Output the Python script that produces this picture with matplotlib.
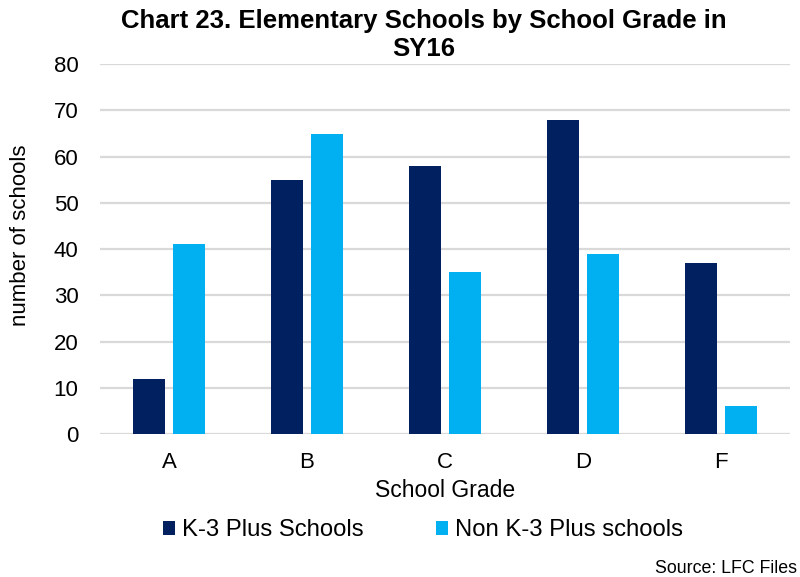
"""
Chart 23: elementary schools by school grade in SY16,
grouped bars for K-3 Plus and non K-3 Plus schools.
"""

import numpy as np
import matplotlib.pyplot as plt

plt.rcParams["font.family"] = ["Liberation Sans", "DejaVu Sans"]

grades = ["A", "B", "C", "D", "F"]
k3_plus = [12, 55, 58, 68, 37]
non_k3_plus = [41, 65, 35, 39, 6]
series_names = ["K-3 Plus Schools", "Non K-3 Plus schools"]
y_ticks = [0, 10, 20, 30, 40, 50, 60, 70, 80]

DARK = "#002060"
LIGHT = "#00B0F0"
GRID = "#D9D9D9"


def main():
    fig = plt.figure(figsize=(8, 5.77), dpi=100)
    ax = fig.add_axes([0.125, 0.2478, 0.8625, 0.641])

    x = np.arange(len(grades))
    width = 0.232
    offset = 0.145

    ax.bar(x - offset, k3_plus, width, color=DARK, label=series_names[0], zorder=3)
    ax.bar(x + offset, non_k3_plus, width, color=LIGHT, label=series_names[1], zorder=3)

    ax.set_xlim(-0.5, len(grades) - 0.5)
    ax.set_ylim(0, 80)
    ax.set_yticks(y_ticks)
    ax.set_xticks(x)
    ax.set_xticklabels(grades)

    ax.yaxis.grid(True, color=GRID, linewidth=1.6, zorder=0)
    ax.set_axisbelow(True)
    for side in ["top", "right", "left", "bottom"]:
        ax.spines[side].set_visible(False)
    ax.tick_params(axis="both", length=0, labelsize=16, colors="black")
    ax.tick_params(axis="x", pad=13)
    ax.tick_params(axis="y", pad=15.5)

    ax.set_xlabel("School Grade", fontsize=16.5, labelpad=4)
    ax.set_ylabel("number of schools", fontsize=16)
    # label sits a little above the axes centre in the original
    ax.yaxis.set_label_coords(-0.1, 0.538)

    fig.text(0.53, 0.984, "Chart 23. Elementary Schools by School Grade in\nSY16",
             ha="center", va="top", fontsize=18.5, fontweight="bold",
             linespacing=1.18)

    fig.legend(loc="center", bbox_to_anchor=(0.529, 0.081), ncol=2,
               frameon=False, fontsize=17.2, handlelength=0.5,
               handleheight=0.5, handletextpad=0.28, columnspacing=3.05)

    fig.text(0.819, 0.0069, "Source: LFC Files", ha="left", va="baseline", fontsize=12.8)

    fig.savefig("out.png", dpi=100)


if __name__ == "__main__":
    main()
